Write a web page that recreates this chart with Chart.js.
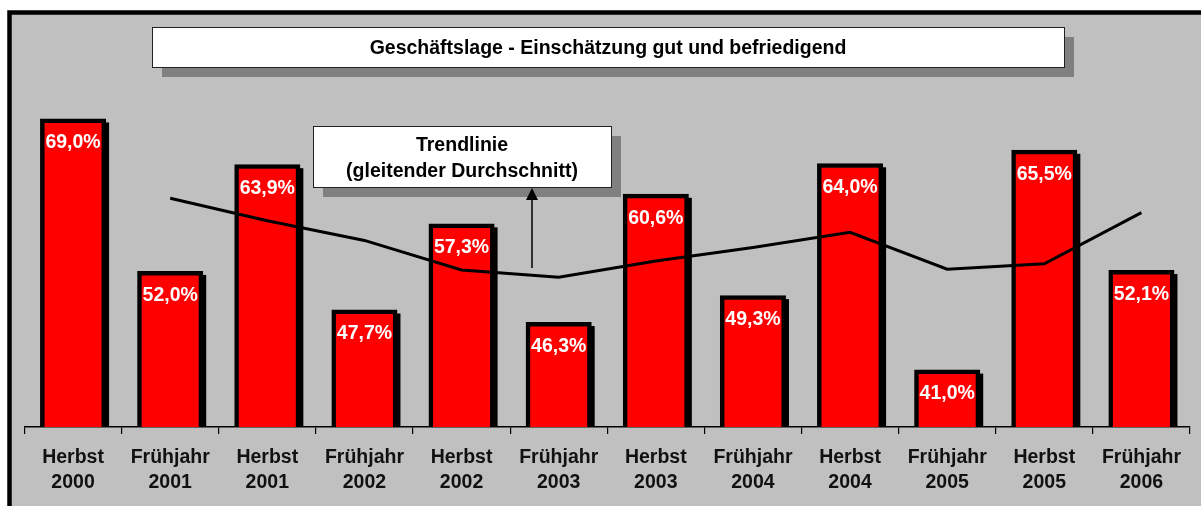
<!DOCTYPE html>
<html>
<head>
<meta charset="utf-8">
<script src="https://cdn.jsdelivr.net/npm/chart.js@4/dist/chart.umd.min.js"></script>
<style>
  body { margin: 0; background: #fff; }
  canvas { display: block; }
</style>
</head>
<body>
<canvas id="chart" width="1201" height="506"></canvas>
<script>
// Data
const categories = [
  ['Herbst', '2000'], ['Frühjahr', '2001'], ['Herbst', '2001'], ['Frühjahr', '2002'],
  ['Herbst', '2002'], ['Frühjahr', '2003'], ['Herbst', '2003'], ['Frühjahr', '2004'],
  ['Herbst', '2004'], ['Frühjahr', '2005'], ['Herbst', '2005'], ['Frühjahr', '2006']
];
const shares = [69.0, 52.0, 63.9, 47.7, 57.3, 46.3, 60.6, 49.3, 64.0, 41.0, 65.5, 52.1];
const trend = [null, 60.1, 57.6, 55.4, 52.1, 51.3, 53.1, 54.6, 56.3, 52.2, 52.8, 58.5];
const title = 'Geschäftslage - Einschätzung gut und befriedigend';
const trendNote = ['Trendlinie', '(gleitender Durchschnitt)'];

const FONT = '"Liberation Sans", Arial, sans-serif';
const BAR_INDEX = 1;

// Grey panel with the thick black frame
const framePlugin = {
  id: 'frame',
  beforeDraw(chart) {
    const c = chart.ctx;
    c.save();
    c.fillStyle = '#fff';
    c.fillRect(0, 0, chart.width, chart.height);
    c.fillStyle = '#c0c0c0';
    c.fillRect(9.5, 12.5, chart.width, chart.height);
    c.strokeStyle = '#000';
    c.lineWidth = 4.5;
    c.strokeRect(9.5, 12.5, chart.width + 20, chart.height + 20);
    c.restore();
  }
};

// Black drop shadow behind each bar
const barShadow = {
  id: 'barShadow',
  beforeDatasetsDraw(chart) {
    const c = chart.ctx;
    const meta = chart.getDatasetMeta(BAR_INDEX);
    const bottom = chart.chartArea.bottom;
    c.save();
    c.fillStyle = '#000';
    meta.data.forEach(bar => {
      const w = bar.width;
      c.fillRect(bar.x - w / 2 + 3, bar.y + 4, w, bottom - bar.y - 4);
    });
    c.restore();
  }
};

function box(c, x, y, w, h) {
  c.fillStyle = '#808080';
  c.fillRect(x + 10, y + 10, w, h);
  c.fillStyle = '#fff';
  c.fillRect(x, y, w, h);
  c.strokeStyle = '#222';
  c.lineWidth = 1;
  c.strokeRect(x + 0.5, y + 0.5, w, h);
}

// Value labels, title box and the trend note with its arrow
const overlay = {
  id: 'overlay',
  afterDatasetsDraw(chart) {
    const c = chart.ctx;
    const meta = chart.getDatasetMeta(BAR_INDEX);
    c.save();
    c.font = 'bold 19.5px ' + FONT;
    c.textAlign = 'center';
    c.textBaseline = 'middle';
    c.fillStyle = '#fff';
    meta.data.forEach((bar, i) => {
      const label = shares[i].toFixed(1).replace('.', ',') + '%';
      c.fillText(label, bar.x, bar.y + 24.5);
    });

    box(c, 152, 27, 912, 40);
    c.fillStyle = '#000';
    c.fillText(title, 608, 48.5);

    box(c, 313, 126, 298, 61);
    c.fillStyle = '#000';
    c.fillText(trendNote[0], 462, 145.5);
    c.fillText(trendNote[1], 462, 172);

    // arrow pointing at the note
    c.strokeStyle = '#000';
    c.lineWidth = 1.5;
    c.beginPath();
    c.moveTo(532, 268);
    c.lineTo(532, 196);
    c.stroke();
    c.beginPath();
    c.moveTo(532, 188);
    c.lineTo(526, 200);
    c.lineTo(538, 200);
    c.closePath();
    c.fill();
    c.restore();
  }
};

new Chart(document.getElementById('chart'), {
  data: {
    labels: categories,
    datasets: [
      {
        type: 'line',
        data: trend,
        borderColor: '#000',
        borderWidth: 3,
        pointRadius: 0,
        tension: 0,
        spanGaps: false,
        order: 1
      },
      {
        type: 'bar',
        data: shares,
        backgroundColor: '#ff0000',
        borderColor: '#000',
        borderWidth: 4.5,
        barPercentage: 0.68,
        categoryPercentage: 1,
        order: 2
      }
    ]
  },
  options: {
    responsive: false,
    animation: false,
    layout: { padding: { left: 24.5, right: 11, top: 70, bottom: 0 } },
    plugins: { legend: { display: false }, tooltip: { enabled: false } },
    scales: {
      x: {
        offset: true,
        grid: {
          offset: true,
          drawOnChartArea: false,
          drawTicks: true,
          tickLength: 7,
          color: '#000',
          lineWidth: 1.2
        },
        border: { display: true, color: '#000', width: 1.5 },
        ticks: {
          color: '#111',
          padding: 11,
          autoSkip: false,
          maxRotation: 0,
          font: { family: FONT, size: 19.5, weight: 'bold', lineHeight: 1.282 }
        },
        afterFit(scale) { scale.height = 79; }
      },
      y: {
        display: false,
        min: 34.6,
        max: 74.4
      }
    }
  },
  plugins: [framePlugin, barShadow, overlay]
});
</script>
</body>
</html>
